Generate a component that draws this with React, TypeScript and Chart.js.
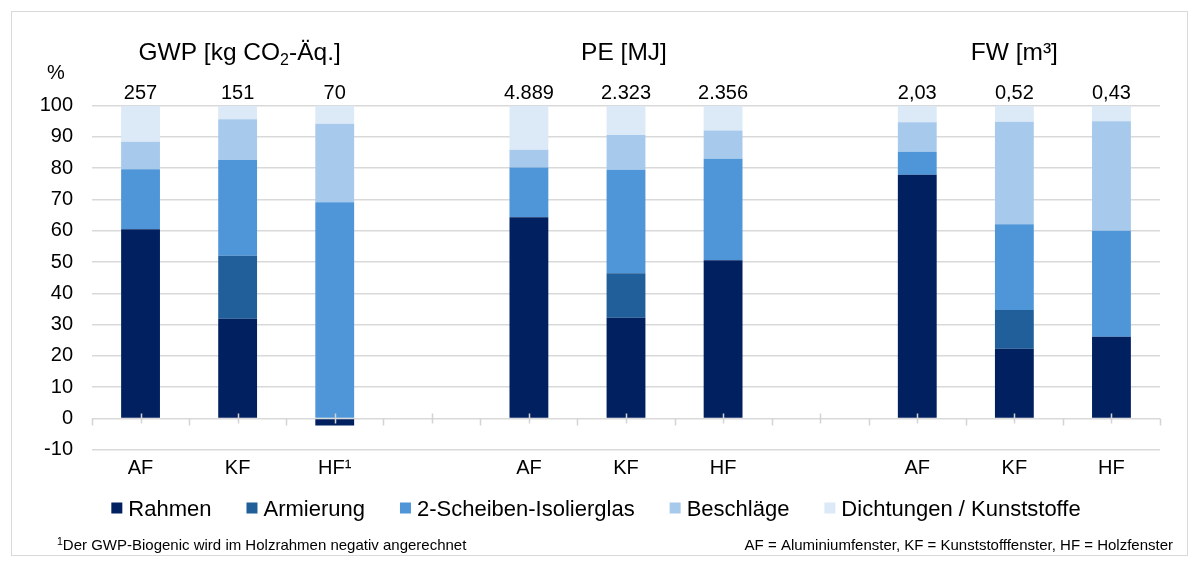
import React, { useEffect, useRef } from 'react';
import { Chart, registerables } from 'chart.js';

Chart.register(...registerables);

const FONT = '"Liberation Sans", Arial, Helvetica, sans-serif';

// 11 category slots: three groups of three windows, separated by empty slots
const categories = ['AF', 'KF', 'HF¹', '', 'AF', 'KF', 'HF', '', 'AF', 'KF', 'HF'];
const totalLabels = ['257', '151', '70', '', '4.889', '2.323', '2.356', '', '2,03', '0,52', '0,43'];
const groupCenters = [1, 5, 9];

const seriesNames = ['Rahmen', 'Armierung', '2-Scheiben-Isolierglas', 'Beschläge', 'Dichtungen / Kunststoffe'];
const seriesColors = ['#002060', '#215F9A', '#4F96D9', '#A6C9EC', '#DCE9F6'];

const rahmen = [60.5, 31.9, -2.3, null, 64.3, 32.2, 50.6, null, 77.9, 22.3, 26.1];
const armierung = [0, 20.1, 0, null, 0, 14.2, 0, null, 0, 12.4, 0];
const isolierglas = [19.2, 30.6, 69.1, null, 15.9, 33.1, 32.4, null, 7.4, 27.4, 33.9];
const beschlaege = [8.8, 13.1, 25.1, null, 5.7, 11.1, 9.1, null, 9.4, 32.8, 35.0];
const dichtungen = [11.5, 4.3, 7.8, null, 14.1, 9.4, 7.9, null, 5.3, 5.1, 5.0];

const yMin = -10;
const yMax = 100;
const yStep = 10;

const footnoteLeft = 'Der GWP-Biogenic wird im Holzrahmen negativ angerechnet';
const footnoteRight = 'AF = Aluminiumfenster, KF = Kunststofffenster, HF = Holzfenster';

const f = (size: number) => `${size}px ${FONT}`;

const decorPlugin = {
  id: 'decor',
  afterDatasetsDraw(chart: any) {
    const { ctx, scales } = chart;
    const x = scales.x;
    const y = scales.y;
    const y0 = y.getPixelForValue(0);
    ctx.save();
    ctx.strokeStyle = '#d4d4d4';
    ctx.lineWidth = 1.5;
    ctx.beginPath();
    for (let i = 0; i <= categories.length; i++) {
      const bx = Math.round(x.getPixelForValue(i - 0.5)) + 0.5;
      ctx.moveTo(bx, y0);
      ctx.lineTo(bx, y0 + 7);
    }
    for (let i = 0; i < categories.length; i++) {
      const cx = Math.round(x.getPixelForValue(i)) + 0.5;
      ctx.moveTo(cx, y0 - 5);
      ctx.lineTo(cx, y0 + 5);
    }
    ctx.stroke();
    ctx.restore();
  },
  afterDraw(chart: any) {
    const { ctx, scales } = chart;
    const x = scales.x;
    const y = scales.y;
    ctx.save();
    ctx.fillStyle = '#000';
    ctx.textBaseline = 'alphabetic';

    // group titles
    const titleY = 60;
    {
      const p1 = 'GWP [kg CO';
      const sub = '2';
      const p2 = '-Äq.]';
      ctx.font = f(24.5);
      const w1 = ctx.measureText(p1).width;
      const w3 = ctx.measureText(p2).width;
      ctx.font = f(16);
      const w2 = ctx.measureText(sub).width;
      const total = w1 + w2 + w3;
      const sx = x.getPixelForValue(groupCenters[0]) - total / 2 + 2;
      ctx.textAlign = 'left';
      ctx.font = f(24.5);
      ctx.fillText(p1, sx, titleY);
      ctx.font = f(16);
      ctx.fillText(sub, sx + w1, titleY + 5);
      ctx.font = f(24.5);
      ctx.fillText(p2, sx + w1 + w2, titleY);
    }
    ctx.textAlign = 'center';
    ctx.font = f(24.5);
    ctx.fillText('PE [MJ]', x.getPixelForValue(groupCenters[1]) - 2, titleY);
    ctx.fillText('FW [m³]', x.getPixelForValue(groupCenters[2]), titleY);

    // unit label
    ctx.font = f(20);
    ctx.fillText('%', 56, 79);

    // totals above bars
    ctx.font = f(20);
    const labelY = y.getPixelForValue(yMax) - 6.5;
    totalLabels.forEach((t, i) => {
      if (t) ctx.fillText(t, x.getPixelForValue(i), labelY);
    });

    // legend
    ctx.font = f(22);
    const box = 11;
    const gapBoxText = 6;
    const gapItems = 35;
    const widths = seriesNames.map((n) => ctx.measureText(n).width);
    const legendW =
      widths.reduce((a, b) => a + b, 0) + seriesNames.length * (box + gapBoxText) + (seriesNames.length - 1) * gapItems;
    let lx = 596 - legendW / 2;
    const ly = 508;
    ctx.textAlign = 'left';
    seriesNames.forEach((n, i) => {
      ctx.fillStyle = seriesColors[i];
      ctx.fillRect(lx, ly - box / 2, box, box);
      ctx.fillStyle = '#000';
      ctx.fillText(n, lx + box + gapBoxText, ly + 8);
      lx += box + gapBoxText + widths[i] + gapItems;
    });

    // footnotes
    ctx.font = f(10.5);
    ctx.fillText('1', 57, 545);
    const sw = ctx.measureText('1').width;
    ctx.font = f(15);
    ctx.fillText(footnoteLeft, 57 + sw, 550);
    ctx.textAlign = 'right';
    ctx.fillText(footnoteRight, 1173, 550);
    ctx.restore();
  },
};

export default function App() {
  const canvasRef = useRef<HTMLCanvasElement | null>(null);

  useEffect(() => {
    if (!canvasRef.current) return;
    const dataArrays = [rahmen, armierung, isolierglas, beschlaege, dichtungen];
    const chart = new Chart(canvasRef.current, {
      type: 'bar',
      data: {
        labels: categories,
        datasets: dataArrays.map((d, i) => ({
          label: seriesNames[i],
          data: d,
          backgroundColor: seriesColors[i],
          borderWidth: 0,
          barPercentage: 0.4,
          categoryPercentage: 1,
        })),
      },
      options: {
        responsive: false,
        animation: false,
        devicePixelRatio: 1,
        layout: { padding: { top: 105.7, right: 40, left: 0, bottom: 0 } },
        plugins: {
          legend: { display: false },
          title: { display: false },
          tooltip: { enabled: false },
        },
        scales: {
          x: {
            stacked: true,
            grid: { display: false },
            border: { display: false },
            ticks: {
              font: { size: 20, family: FONT },
              color: '#000',
              padding: -1,
              maxRotation: 0,
              autoSkip: false,
            },
            afterFit(scale: any) {
              scale.height = 569 - 449.7;
            },
          },
          y: {
            stacked: true,
            min: yMin,
            max: yMax,
            ticks: {
              stepSize: yStep,
              font: { size: 20, family: FONT },
              color: '#000',
              padding: 19,
            },
            grid: { color: '#d9d9d9', lineWidth: 1.5, drawTicks: false },
            border: { display: false },
            afterFit(scale: any) {
              scale.width = 92;
            },
          },
        },
      },
      plugins: [decorPlugin],
    });
    return () => chart.destroy();
  }, []);

  return (
    <div style={{ position: 'fixed', left: 0, top: 0, width: 1200, height: 569, background: '#fff' }}>
      <div
        style={{
          position: 'absolute',
          left: 11,
          top: 11,
          width: 1177,
          height: 545,
          border: '1px solid #d9d9d9',
          boxSizing: 'border-box',
        }}
      />
      <canvas
        ref={canvasRef}
        width={1200}
        height={569}
        style={{ position: 'absolute', left: 0, top: 0, display: 'block' }}
      />
    </div>
  );
}
